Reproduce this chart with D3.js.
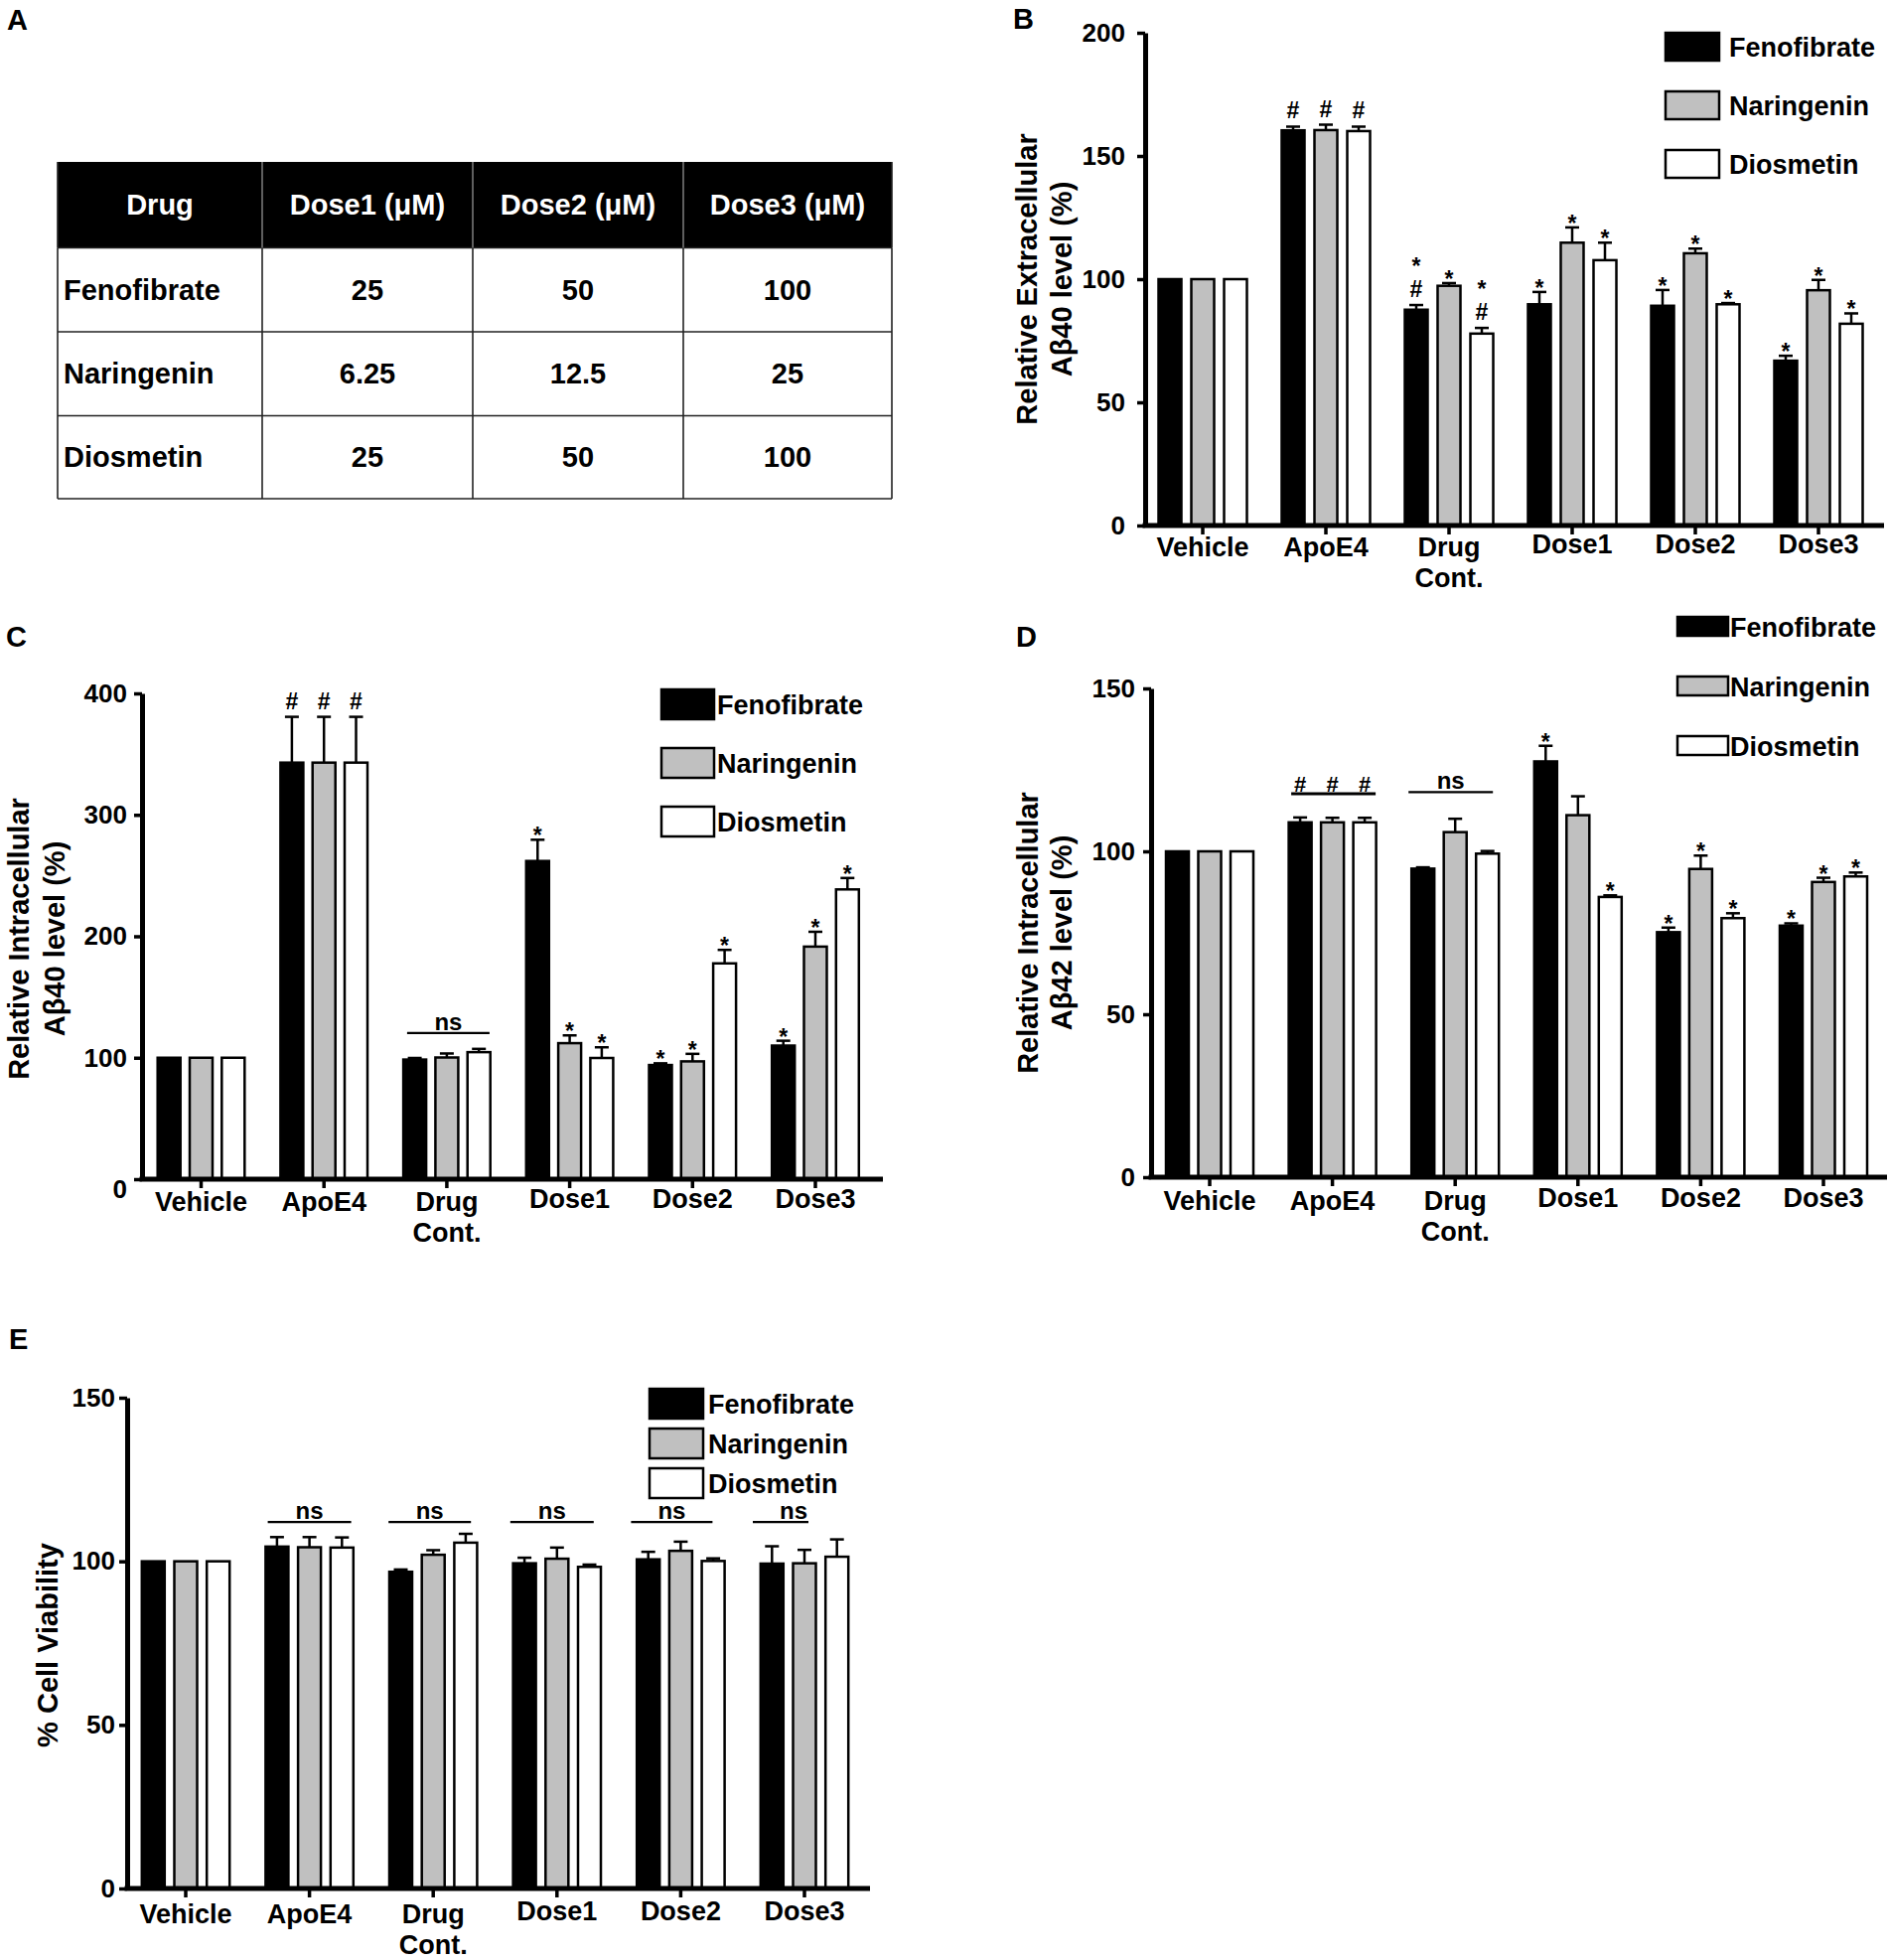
<!DOCTYPE html>
<html>
<head>
<meta charset="utf-8">
<script src="https://cdn.jsdelivr.net/npm/d3@7"></script>
<style>
  body { margin: 0; background: #fff; }
  svg text { font-family: "Liberation Sans", Arial, Helvetica, sans-serif; font-weight: bold; }
</style>
</head>
<body>
<script>
// ---- data ----
const groups = ["Vehicle", "ApoE4", "Drug|Cont.", "Dose1", "Dose2", "Dose3"];
const drugs = ["Fenofibrate", "Naringenin", "Diosmetin"];

// panel A table
const tableHeader = ["Drug", "Dose1 (μM)", "Dose2 (μM)", "Dose3 (μM)"];
const tableRows = [
  ["Fenofibrate", "25", "50", "100"],
  ["Naringenin", "6.25", "12.5", "25"],
  ["Diosmetin", "25", "50", "100"]
];

// panel B: extracellular Abeta40 (rows = drugs, cols = groups)
const bTicks = [0, 50, 100, 150, 200];
const bMean = [
  [100, 160.4, 87.6, 89.8, 89.2, 66.9],
  [100, 160.5, 97.3, 114.8, 110.5, 95.5],
  [100, 160.1, 77.9, 107.7, 89.8, 81.9]
];
const bErr = [
  [0, 1.5, 1.9, 5.0, 6.4, 2.0],
  [0, 2.2, 1.1, 6.2, 1.9, 4.2],
  [0, 1.8, 2.3, 7.1, 0.5, 4.2]
];
const bMarks = [
  ["", "#", "*#", "*", "*", "*"],
  ["", "#", "*", "*", "*", "*"],
  ["", "#", "*#", "*", "*", "*"]
];

// panel C: intracellular Abeta40
const cTicks = [0, 100, 200, 300, 400];
const cMean = [
  [100, 343, 98.5, 262, 94, 110],
  [100, 343, 100.2, 112, 97, 191.5],
  [100, 343, 104.6, 99.8, 177.7, 238.6]
];
const cErr = [
  [0, 37.7, 1.3, 17.5, 1.4, 4.0],
  [0, 37.7, 3.3, 6.4, 6.2, 12.2],
  [0, 37.7, 2.7, 8.8, 11.1, 9.4]
];
const cMarks = [
  ["", "#", "", "*", "*", "*"],
  ["", "#", "", "*", "*", "*"],
  ["", "#", "", "*", "*", "*"]
];

// panel D: intracellular Abeta42
const dTicks = [0, 50, 100, 150];
const dMean = [
  [100, 108.9, 94.7, 127.6, 75.2, 77.2],
  [100, 108.9, 105.9, 111.1, 94.6, 90.6],
  [100, 108.9, 99.3, 86.0, 79.5, 92.3]
];
const dErr = [
  [0, 1.5, 0.4, 4.8, 1.4, 0.7],
  [0, 1.4, 4.1, 5.8, 4.1, 1.3],
  [0, 1.4, 0.8, 0.5, 1.5, 1.2]
];
const dMarks = [
  ["", "", "", "*", "*", "*"],
  ["", "", "", "", "*", "*"],
  ["", "", "", "*", "*", "*"]
];

// panel E: cell viability
const eTicks = [0, 50, 100, 150];
const eMean = [
  [100, 104.5, 96.8, 99.4, 100.6, 99.3],
  [100, 104.3, 102.0, 100.8, 103.2, 99.4],
  [100, 104.2, 105.7, 98.3, 100.1, 101.4]
];
const eErr = [
  [0, 2.9, 0.7, 1.7, 2.3, 5.3],
  [0, 3.1, 1.4, 3.4, 2.8, 4.1],
  [0, 3.1, 2.7, 0.7, 0.8, 5.3]
];
const eMarks = [
  ["", "", "", "", "", ""],
  ["", "", "", "", "", ""],
  ["", "", "", "", "", ""]
];

// group-level annotations (value = height on the y scale)
const cBrackets = [{ group: "Drug|Cont.", value: 120.4, label: "ns", span: [-40, 43] }];
const dBrackets = [
  { group: "ApoE4", value: 117.7, label: "#", perBar: true, span: [-41.5, 43.5] },
  { group: "Drug|Cont.", value: 118.2, label: "ns", span: [-47, 38] }
];
const eBrackets = [
  { group: "ApoE4", value: 112, label: "ns", span: [-42, 42] },
  { group: "Drug|Cont.", value: 112, label: "ns", span: [-45, 38] },
  { group: "Dose1", value: 112, label: "ns", span: [-47, 37] },
  { group: "Dose2", value: 112, label: "ns", span: [-50, 32] },
  { group: "Dose3", value: 112, label: "ns", span: [-52, 4], labelAt: -11 }
];

// ---- drawing ----
const fills = ["#000", "#c0c0c0", "#fff"];
const BAR_W = 23;
const CAP = 14;

const svg = d3.select("body").append("svg")
  .attr("width", 1902).attr("height", 1973);

const letter = (t, x, y) =>
  svg.append("text").attr("x", x).attr("y", y).attr("font-size", 29).text(t);

// panel A
letter("A", 7, 30);
const tbl = { x: [58, 264, 476, 688, 898], y: [163, 249.5, 334, 418.5, 502] };
const ta = svg.append("g");
ta.append("rect").attr("x", tbl.x[0]).attr("y", tbl.y[0])
  .attr("width", tbl.x[4] - tbl.x[0]).attr("height", tbl.y[1] - tbl.y[0]).attr("fill", "#000");
tbl.y.slice(1).forEach(yy => ta.append("line")
  .attr("x1", tbl.x[0]).attr("x2", tbl.x[4]).attr("y1", yy).attr("y2", yy)
  .attr("stroke", "#222").attr("stroke-width", 1.6));
tbl.x.forEach((xx, i) => {
  ta.append("line").attr("x1", xx).attr("x2", xx).attr("y1", tbl.y[1]).attr("y2", tbl.y[4])
    .attr("stroke", "#222").attr("stroke-width", 1.6);
  ta.append("line").attr("x1", xx).attr("x2", xx).attr("y1", tbl.y[0]).attr("y2", tbl.y[1])
    .attr("stroke", i === 0 || i === 4 ? "#222" : "#777").attr("stroke-width", 1.6);
});
tableHeader.forEach((h, i) => ta.append("text")
  .attr("x", (tbl.x[i] + tbl.x[i + 1]) / 2).attr("y", (tbl.y[0] + tbl.y[1]) / 2 + 10)
  .attr("text-anchor", "middle").attr("font-size", 29).attr("fill", "#fff").text(h));
tableRows.forEach((row, r) => row.forEach((c, i) => ta.append("text")
  .attr("x", i === 0 ? tbl.x[0] + 6 : (tbl.x[i] + tbl.x[i + 1]) / 2)
  .attr("y", (tbl.y[r + 1] + tbl.y[r + 2]) / 2 + 10)
  .attr("text-anchor", i === 0 ? "start" : "middle")
  .attr("font-size", 29).attr("fill", "#000").text(c)));

function drawPanel(cfg, mean, err, marks, brackets) {
  const g = svg.append("g");
  const y = d3.scaleLinear().domain([0, cfg.ymax]).range([cfg.y0, cfg.yTop]);
  const x = d3.scaleBand().domain(groups)
    .range([cfg.c0 - cfg.step / 2, cfg.c0 + cfg.step * 5.5]);
  const xs = d3.scalePoint().domain(drugs).range([-cfg.barStep, cfg.barStep]);
  const gc = grp => x(grp) + x.bandwidth() / 2;
  const cx = b => gc(b.grp) + xs(b.drug);

  const bars = [];
  drugs.forEach((drug, di) => groups.forEach((grp, gi) => bars.push({
    drug, di, grp, v: mean[di][gi], e: err[di][gi], m: marks[di][gi]
  })));

  // error bars (one-sided, above the bar)
  const eb = bars.filter(b => b.e > 0);
  g.selectAll("line.err").data(eb).join("line").attr("class", "err")
    .attr("x1", cx).attr("x2", cx)
    .attr("y1", b => y(b.v)).attr("y2", b => y(b.v + b.e))
    .attr("stroke", "#000").attr("stroke-width", 2.5);
  g.selectAll("line.cap").data(eb).join("line").attr("class", "cap")
    .attr("x1", b => cx(b) - CAP / 2).attr("x2", b => cx(b) + CAP / 2)
    .attr("y1", b => y(b.v + b.e)).attr("y2", b => y(b.v + b.e))
    .attr("stroke", "#000").attr("stroke-width", 2.5);

  g.selectAll("rect.bar").data(bars).join("rect").attr("class", "bar")
    .attr("x", b => cx(b) - BAR_W / 2)
    .attr("y", b => y(b.v))
    .attr("width", BAR_W)
    .attr("height", b => cfg.y0 - y(b.v))
    .attr("fill", b => fills[b.di])
    .attr("stroke", "#000").attr("stroke-width", 2.5);

  // significance marks above each bar
  const top = b => y(b.v + b.e);
  bars.filter(b => b.m).forEach(b => {
    if (b.m.includes("#")) {
      g.append("text").attr("x", cx(b)).attr("y", top(b) - 8)
        .attr("text-anchor", "middle").attr("font-size", 23).text("#");
    }
    if (b.m.includes("*")) {
      g.append("text").attr("x", cx(b))
        .attr("y", b.m.includes("#") ? top(b) - 31 : top(b) + 4)
        .attr("text-anchor", "middle").attr("font-size", 23).text("*");
    }
  });

  // group brackets
  brackets.forEach(br => {
    const c = gc(br.group);
    const ly = y(br.value);
    g.append("line").attr("x1", c + br.span[0]).attr("x2", c + br.span[1])
      .attr("y1", ly).attr("y2", ly)
      .attr("stroke", "#000").attr("stroke-width", br.perBar ? 3 : 2.2);
    if (br.perBar) {
      drugs.forEach(d => g.append("text").attr("x", c + xs(d)).attr("y", ly - 1.5)
        .attr("text-anchor", "middle").attr("font-size", 22).text(br.label));
    } else {
      const lx = br.labelAt !== undefined ? br.labelAt : (br.span[0] + br.span[1]) / 2;
      g.append("text").attr("x", c + lx).attr("y", ly - 3)
        .attr("text-anchor", "middle").attr("font-size", 24).text(br.label);
    }
  });

  // y axis
  const ya = g.append("g").attr("transform", `translate(${cfg.axisX},0)`)
    .call(d3.axisLeft(y).tickValues(cfg.ticks).tickSize(8)
      .tickPadding(cfg.tickPad).tickSizeOuter(0));
  ya.attr("font-size", 26).attr("font-family", null);
  ya.select(".domain").attr("stroke-width", 5);
  ya.selectAll(".tick line").attr("stroke-width", 3.5);
  ya.selectAll(".tick text").attr("fill", "#000")
    .attr("dy", d => d === 0 ? 0.32 + cfg.zeroDy / 26 + "em" : "0.32em");

  // x axis
  const xa = g.append("g").attr("transform", `translate(0,${cfg.y0})`)
    .call(d3.axisBottom(x).tickSize(9).tickSizeOuter(0).tickFormat(""));
  xa.select(".domain").remove();
  xa.selectAll(".tick line").attr("stroke-width", 3.5);
  xa.append("line").attr("x1", cfg.axisX - 2.5).attr("x2", cfg.xEnd)
    .attr("stroke", "#000").attr("stroke-width", 5);

  groups.forEach(grp => {
    const t = g.append("text").attr("text-anchor", "middle").attr("font-size", 27)
      .attr("x", gc(grp))
      .attr("y", cfg.y0 + cfg.labelDy + (grp.startsWith("Dose") ? -3 : 0));
    grp.split("|").forEach((l, i) => t.append("tspan").attr("x", gc(grp))
      .attr("dy", i === 0 ? 0 : 31).text(l));
  });

  // y label
  cfg.ylabel.forEach((l, i) => g.append("text")
    .attr("transform", `translate(${cfg.ylabelX[i]},${cfg.ylabelY}) rotate(-90)`)
    .attr("text-anchor", "middle").attr("font-size", 29).text(l));

  // legend
  const lg = cfg.legend;
  drugs.forEach((d, i) => {
    g.append("rect").attr("x", lg.x).attr("y", lg.y[i]).attr("width", lg.w).attr("height", lg.h)
      .attr("fill", fills[i]).attr("stroke", "#000").attr("stroke-width", 2.5);
    g.append("text").attr("x", lg.tx).attr("y", lg.y[i] + lg.h / 2 + 10)
      .attr("font-size", 27).text(d);
  });
}

letter("B", 1020, 29);
drawPanel({
  axisX: 1153, y0: 529, yTop: 33, ymax: 200, ticks: bTicks, zeroDy: 0,
  c0: 1211, step: 124, barStep: 33, xEnd: 1897, tickPad: 12, labelDy: 31,
  ylabel: ["Relative Extracellular", "Aβ40 level (%)"], ylabelX: [1044, 1079], ylabelY: 281,
  legend: { x: 1677, y: [33, 92, 151], w: 54, h: 28, tx: 1741 }
}, bMean, bErr, bMarks, []);

letter("C", 6, 651);
drawPanel({
  axisX: 143, y0: 1187, yTop: 698, ymax: 400, ticks: cTicks, zeroDy: 10,
  c0: 202.5, step: 123.7, barStep: 32.3, xEnd: 889, tickPad: 7, labelDy: 32,
  ylabel: ["Relative Intracellular", "Aβ40 level (%)"], ylabelX: [29, 65], ylabelY: 945,
  legend: { x: 666, y: [694, 753, 812], w: 53, h: 30, tx: 722 }
}, cMean, cErr, cMarks, cBrackets);

letter("D", 1023, 651);
drawPanel({
  axisX: 1159, y0: 1185, yTop: 693, ymax: 150, ticks: dTicks, zeroDy: 0,
  c0: 1218, step: 123.6, barStep: 32.5, xEnd: 1900, tickPad: 8, labelDy: 33,
  ylabel: ["Relative Intracellular", "Aβ42 level (%)"], ylabelX: [1045, 1079], ylabelY: 939,
  legend: { x: 1689, y: [621, 681, 741], w: 51, h: 19, tx: 1742 }
}, dMean, dErr, dMarks, dBrackets);

letter("E", 9, 1358);
drawPanel({
  axisX: 128, y0: 1901, yTop: 1407, ymax: 150, ticks: eTicks, zeroDy: 0,
  c0: 187, step: 124.6, barStep: 32.7, xEnd: 876, tickPad: 4, labelDy: 35,
  ylabel: ["% Cell Viability"], ylabelX: [58], ylabelY: 1656,
  legend: { x: 654, y: [1398, 1438, 1478], w: 54, h: 30, tx: 713 }
}, eMean, eErr, eMarks, eBrackets);
</script>
</body>
</html>
